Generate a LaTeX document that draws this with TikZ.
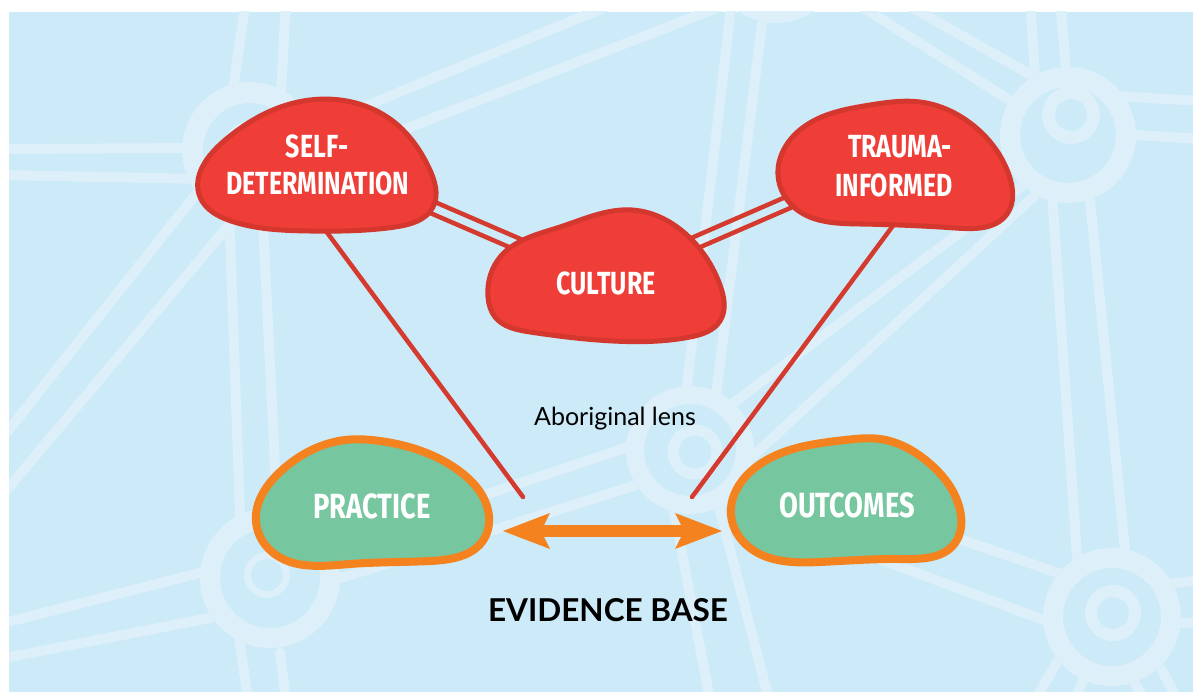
\documentclass[tikz,border=0pt]{standalone}
\usepackage{fontspec}
\usetikzlibrary{arrows.meta,hobby}
\newfontfamily\handfont[FakeStretch=0.78]{Fira Sans}
\newfontfamily\labfont{Lato}
\definecolor{bgblue}{HTML}{CCEAF7}
\definecolor{roadblue}{HTML}{DDF0F9}
\definecolor{blobred}{HTML}{EF3E38}
\definecolor{blobedge}{HTML}{D4372D}
\definecolor{linered}{HTML}{D53A2F}
\definecolor{blobgreen}{HTML}{76C6A0}
\definecolor{blobor}{HTML}{F4831F}
\begin{document}
\begin{tikzpicture}[x=1pt,y=-1pt,
  road/.style={draw=roadblue,line width=10pt},
  hubring/.style={draw=roadblue,line width=#1},
  hubfill/.style={fill=bgblue},
  redblob/.style={fill=blobred,draw=blobedge,line width=5pt},
  greenblob/.style={fill=blobgreen,draw=blobor,line width=8pt},
  redline/.style={draw=linered,line width=4.5pt,line cap=round},
  blobtext/.style={text=white,font=\handfont\bfseries\fontsize{32}{32}\selectfont,inner sep=0pt,anchor=base},
  greentext/.style={text=white,font=\handfont\bfseries\fontsize{35}{35}\selectfont,inner sep=0pt,anchor=base},
  lab/.style={text=black,font=\labfont\fontsize{25}{25}\selectfont,inner sep=0pt,anchor=base},
  labbold/.style={text=black,font=\labfont\bfseries\fontsize{31.5}{31.5}\selectfont,inner sep=0pt,anchor=base},
  evarrow/.style={draw=blobor,line width=12pt,
    {Stealth[length=47pt,width=36pt,inset=9pt,line width=0pt]}-{Stealth[length=47pt,width=36pt,inset=9pt,line width=0pt]}}
]
\useasboundingbox (0,0) rectangle (1193,692);
\fill[white] (0,0) rectangle (1193,692);
\fill[bgblue] (9,12) rectangle (1193,692);

% ---------- background network ----------
\begin{scope}
\clip (9,12) rectangle (1193,692);
% roads
\draw[road] (0,149) -- (205,148);
\draw[road] (0,175) -- (205,179);
\draw[road] (246,0) -- (230,110);
\draw[road] (286,0) -- (280,110);
\draw[road] (0,441) -- (215,170);
\draw[road] (0,498) -- (250,200);
\draw[road] (228,180) -- (242,570);
\draw[road] (261,180) -- (280,570);
\draw[road] (310,129) -- (620,1);
\draw[road] (315,164) -- (740,-1);
\draw[road] (733,-10) -- (683,420);
\draw[road] (766,-10) -- (713,420);
\draw[road] (1030,0) -- (1036,90);
\draw[road] (1060,0) -- (1067,80);
\draw[road] (851,0) -- (1030,113);
\draw[road] (899,0) -- (1045,83);
\draw[road] (1115,96) -- (1200,101);
\draw[road] (1120,134) -- (1200,139);
\draw[road] (720,413) -- (1035,176);
\draw[road] (740,468) -- (1045,186);
\draw[road] (1049,150) -- (1080,600);
\draw[road] (1085,150) -- (1130,600);
\draw[road] (740,464) -- (1070,577);
\draw[road] (720,500) -- (1060,626);
\draw[road] (1160,585) -- (1200,580);
\draw[road] (1165,624) -- (1200,622);
\draw[road] (1070,640) -- (1035,700);
\draw[road] (1095,650) -- (1075,700);
\draw[road] (1115,650) -- (1145,700);
\draw[road] (1145,640) -- (1178,700);
\draw[road] (671,495) -- (710,700);
\draw[road] (716,495) -- (769,700);
\draw[road] (640,443) -- (290,560);
\draw[road] (640,484) -- (290,594);
\draw[road] (215,569) -- (0,624);
\draw[road] (225,615) -- (0,659);
\draw[road] (238,630) -- (248,700);
\draw[road,line cap=round] (280,653) -- (286,700);
% hubs
\fill[hubfill] (250,150) circle[radius=68pt];
\draw[hubring=21pt] (250,150) circle[radius=57.5pt];
\draw[hubring=12pt] (250,150) circle[radius=22pt];
\fill[hubfill] (776,-45) circle[radius=68pt];
\draw[hubring=20pt] (776,-45) circle[radius=58pt];
\fill[hubfill] (1068,135) circle[radius=68pt];
\draw[hubring=20pt] (1068,135) circle[radius=58pt];
\draw[hubring=13pt] (1071,115) circle[radius=22.5pt];
\fill[hubfill] (690,450) circle[radius=64pt];
\draw[hubring=18pt] (690,450) circle[radius=55pt];
\draw[hubring=11pt] (695,452) circle[radius=22pt];
\fill[hubfill] (1112,617) circle[radius=69pt];
\draw[hubring=20pt] (1112,617) circle[radius=59pt];
\draw[hubring=12pt] (1113,613) circle[radius=22pt];
\fill[hubfill] (270,578) circle[radius=70pt];
\draw[hubring=20pt] (270,578) circle[radius=60pt];
\draw[hubring=7pt] (267,575) circle[radius=19.5pt];
\end{scope}

% ---------- anchor coordinates ----------
\coordinate (sd-c) at (318,158);
\coordinate (cu-c) at (605,282);
\coordinate (tr-c) at (895,156);
\coordinate (sd-b) at (303,200);
\coordinate (tr-b) at (912,200);
\coordinate (lensL) at (523,497);
\coordinate (lensR) at (692,497);
\coordinate (pr-e) at (503,531);
\coordinate (oc-w) at (722,531);

% ---------- red connectors ----------
\draw[redline] ([yshift=6.5pt]sd-c) -- ([yshift=6.5pt]cu-c);
\draw[redline] ([yshift=-6.5pt]sd-c) -- ([yshift=-6.5pt]cu-c);
\draw[redline] ([yshift=6.5pt]cu-c) -- ([yshift=6.5pt]tr-c);
\draw[redline] ([yshift=-6.5pt]cu-c) -- ([yshift=-6.5pt]tr-c);
\draw[redline] (sd-b) -- (lensL);
\draw[redline] (tr-b) -- (lensR);

% ---------- blobs ----------
\draw[redblob] plot[closed hobby] coordinates {(200,197) (224,141) (290,104) (340,100) (394,122) (429,168) (433,207) (395,227) (310,231) (231,221)};
\draw[redblob] plot[closed hobby] coordinates {(488,297) (501,256) (560,227) (632,210) (689,237) (720,285) (720,321) (690,337) (613,341) (530,332) (495,317)};
\draw[redblob] plot[closed hobby] coordinates {(778,175) (801,129) (870,105) (920,102) (974,126) (1009,175) (1007,214) (955,228) (860,224) (796,209)};
\draw[greenblob] plot[closed hobby] coordinates {(256,522) (281,471) (345,440) (380,441) (458,470) (488,510) (484,539) (430,561) (350,564) (276,555)};
\draw[greenblob] plot[closed hobby] coordinates {(731,515) (756,467) (845,440) (880,439) (928,462) (960,510) (955,543) (900,559) (820,562) (750,548)};

% ---------- texts ----------
\node[blobtext] (sd1) at (317,158) {SELF-};
\node[blobtext] (sd2) at (318,195) {DETERMINATION};
\node[blobtext] (cu) at (606,295) {CULTURE};
\node[blobtext] (tr1) at (900,158) {TRAUMA-};
\node[blobtext] (tr2) at (894,197) {INFORMED};
\node[greentext] (pr) at (372,518) {PRACTICE};
\node[greentext] (oc) at (847,517) {OUTCOMES};
\node[lab] (lens) at (615,425) {Aboriginal lens};
\node[labbold] (ev) at (608,621) {EVIDENCE BASE};

% ---------- evidence arrow ----------
\draw[evarrow] (pr-e) -- (oc-w);
\end{tikzpicture}
\end{document}
